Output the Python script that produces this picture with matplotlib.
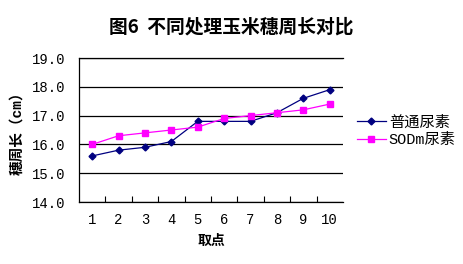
import matplotlib
matplotlib.use('Agg')
import matplotlib.pyplot as plt
import numpy as np

plt.rcParams['font.family'] = ['Liberation Mono', 'Noto Sans CJK SC']

points = [1, 2, 3, 4, 5, 6, 7, 8, 9, 10]
putong = [15.6, 15.8, 15.9, 16.1, 16.8, 16.8, 16.8, 17.1, 17.6, 17.9]
sodm = [16.0, 16.3, 16.4, 16.5, 16.6, 16.9, 17.0, 17.1, 17.2, 17.4]
series_names = ['普通尿素', 'SODm尿素']

fig = plt.figure(figsize=(4.63, 2.64), dpi=100)
ax = fig.add_axes([0.1706, 0.2348, 0.570, 0.5455])

ax.plot(points, putong, color='#000080', marker='D', markersize=3.5, linewidth=0.9, label=series_names[0])
ax.plot(points, sodm, color='#FF00FF', marker='s', markersize=5, linewidth=0.9, label=series_names[1])

ax.set_xlim(0.5, 10.5)
ax.set_ylim(14.0, 19.0)
yt = np.arange(14.0, 19.01, 1.0)
ax.set_yticks(yt)
ax.set_yticklabels([f'{v:.1f}' for v in yt], fontsize=10)
ax.set_xticks(points)
ax.set_xticklabels([str(p) for p in points], fontsize=10)
ax.set_xticks(np.arange(1.5, 10.5, 1.0), minor=True)
ax.tick_params(axis='x', which='major', length=0, pad=8)
ax.tick_params(axis='x', which='minor', direction='in', length=4, width=0.8)
ax.tick_params(axis='y', length=0, pad=10)

ax.grid(axis='y', color='black', linewidth=0.9)
ax.set_axisbelow(True)
ax.spines['right'].set_visible(False)
for s in ['top', 'left', 'bottom']:
    ax.spines[s].set_linewidth(0.9)

ax.set_xlabel('取点', fontsize=10, fontweight='bold', labelpad=5)
ax.set_ylabel('穗周长（cm）', fontsize=10.5, fontweight='bold', labelpad=5)

fig.suptitle('图6  不同处理玉米穗周长对比', fontsize=13.5, fontweight='bold', y=0.935,
             family=['Noto Sans CJK SC'])

ax.legend(loc='center left', bbox_to_anchor=(1.0, 0.49), frameon=False, fontsize=11,
          handlelength=1.9, handletextpad=0.2, labelspacing=0.25)

fig.savefig('out.png', dpi=100)
